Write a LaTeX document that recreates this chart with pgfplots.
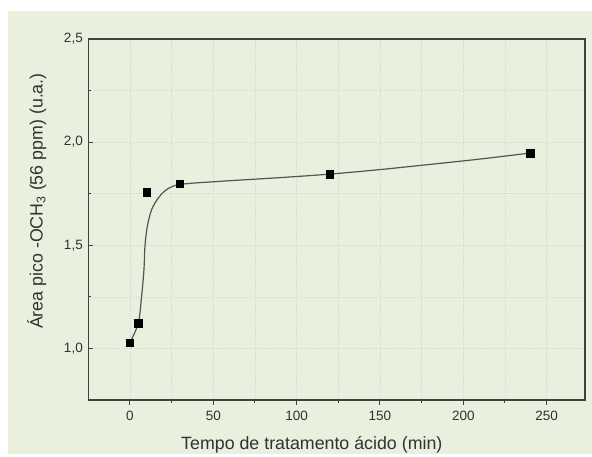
\documentclass[border=0pt]{standalone}
\usepackage{pgfplots}
\pgfplotsset{compat=1.18}
\usepackage{fontspec}
\setmainfont{Liberation Sans}
\definecolor{bg}{RGB}{233,240,221}
\definecolor{txt}{RGB}{50,50,50}
\definecolor{axc}{RGB}{65,65,65}
\definecolor{gridc}{RGB}{210,215,203}
\begin{document}
\begin{tikzpicture}
\fill[white] (0pt,0pt) rectangle (592pt,454pt);
\fill[bg] (8pt,0pt) rectangle (592pt,443pt);
\begin{axis}[
  at={(88.3pt,54pt)}, anchor=south west,
  scale only axis, width=496.7pt, height=361pt,
  xmin=-25, xmax=273, ymin=0.75, ymax=2.5,
  xtick={0,50,100,150,200,250},
  ytick={1,1.5,2,2.5},
  minor x tick num=1, minor y tick num=1,
  axis line style={axc, line width=1.3pt},
  every tick/.style={axc, line width=1pt},
  major tick length=5pt, minor tick length=3pt,
  xtick align=outside, ytick align=inside,
  xtick pos=bottom, ytick pos=left,
  grid=both,
  major grid style={gridc, dotted, line width=0.6pt},
  minor grid style={gridc, dotted, line width=0.6pt},
  /pgf/number format/assume math mode=true,
  yticklabel style={/pgf/number format/use comma, /pgf/number format/fixed, /pgf/number format/fixed zerofill, /pgf/number format/precision=1, xshift=-2pt},
  ticklabel style={font=\fontsize{13.5}{15}\selectfont, text=txt},
  xticklabel style={yshift=-3pt},
  label style={font=\fontsize{17.8}{20}\selectfont, text=txt},
  xlabel={Tempo de tratamento ácido (min)},
  ylabel={Área pico -OCH\textsubscript{3} (56 ppm) (u.a.)},
  xlabel style={at={(axis description cs:0.45,-0.1247)}, anchor=center},
  ylabel style={at={(axis description cs:-0.104,0.551)}, anchor=center},
]
\addplot[smooth, color=axc!90, line width=1.2pt, tension=0.5] coordinates {
(0,1.029) (5,1.122) (7,1.254) (8.4,1.383) (9.0,1.496) (10.4,1.592) (13,1.673)
(17,1.729) (22,1.770) (30,1.795) (54,1.810) (90,1.828) (120,1.845)
(150,1.867) (180,1.892) (210,1.918) (240,1.947)
};
\addplot[only marks, mark=square*, mark size=3.7pt, color=black] coordinates {
(0,1.029) (5,1.122) (10,1.757) (30,1.799) (120,1.845) (240,1.947)
};
\end{axis}
\end{tikzpicture}
\end{document}
